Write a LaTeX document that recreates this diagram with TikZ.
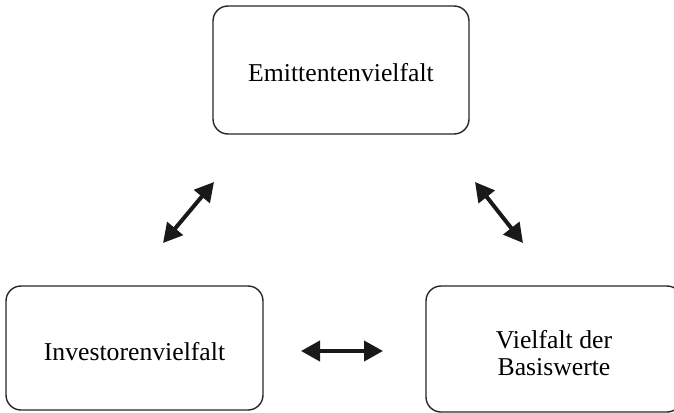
\documentclass[tikz,border=0pt]{standalone}
\usepackage{fontspec}
\setmainfont{Liberation Serif}
\usetikzlibrary{arrows.meta}
\begin{document}
\begin{tikzpicture}[x=1pt,y=-1pt,
  box/.style={draw=black!85, line width=1.4pt, rounded corners=15pt, inner sep=0pt},
  txt/.style={inner sep=0pt, align=center, font=\fontsize{25.7}{27.5}\selectfont},
  dbl/.style={line width=4pt, {Triangle[length=19pt,width=20pt]}-{Triangle[length=19pt,width=20pt]}, black!90}]
\useasboundingbox (0,0) rectangle (674,412);
\node[box, minimum width=256pt, minimum height=128pt] (top) at (341,70) {};
\node[box, minimum width=257pt, minimum height=124pt] (left) at (134.5,348) {};
\node[box, minimum width=256pt, minimum height=126pt] (right) at (554,349) {};
\node[txt] (ttop) at ([yshift=-3pt]top.center) {Emittentenvielfalt};
\node[txt] (tleft) at ([yshift=-4pt]left.center) {Investorenvielfalt};
\node[txt] (tright) at ([yshift=-4pt]right.center) {Vielfalt der\\Basiswerte};
\coordinate (a1) at (163,243); \coordinate (a2) at (214,182);
\coordinate (b1) at (475,182); \coordinate (b2) at (523,243);
\coordinate (c1) at (301,351); \coordinate (c2) at (383,351);
\draw[dbl] (a1) -- (a2);
\draw[dbl] (b1) -- (b2);
\draw[dbl] (c1) -- (c2);
\end{tikzpicture}
\end{document}
